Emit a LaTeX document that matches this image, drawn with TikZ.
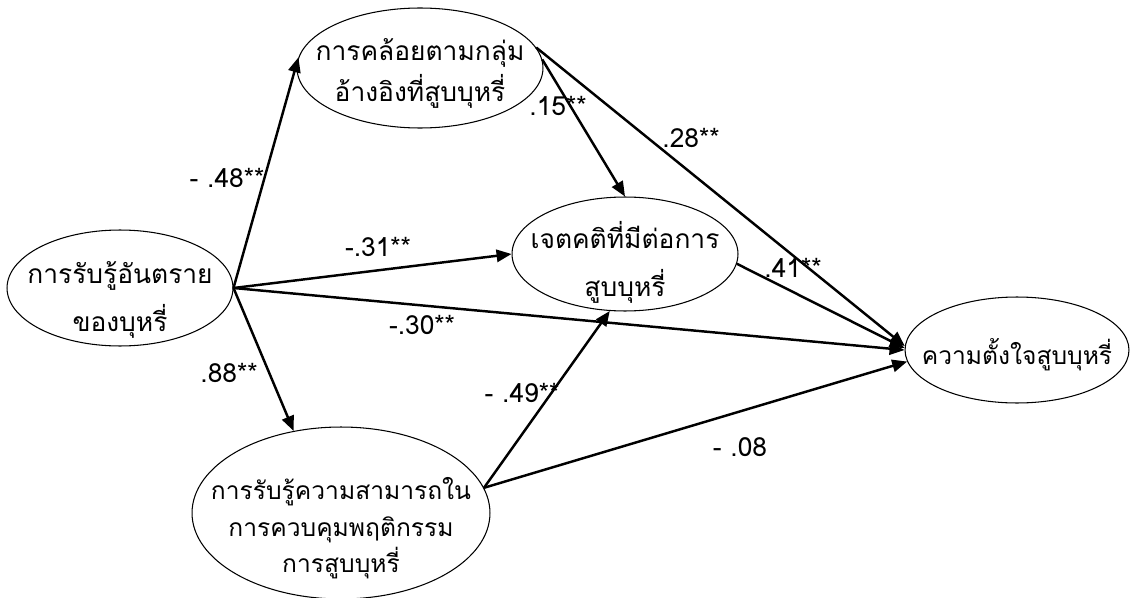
\documentclass[tikz,border=0pt]{standalone}
\usepackage{fontspec}
\setmainfont{Loma}[Script=Thai]
\usepackage{tikz}
\usetikzlibrary{shapes.geometric, arrows.meta, positioning}
% text of an ellipse: no width, no height, lowered by #1
\newcommand{\vtext}[2]{\makebox[0pt]{\raisebox{#1}[0pt][0pt]{\begin{tabular}{@{}c@{}}#2\end{tabular}}}}

\begin{document}
\begin{tikzpicture}[
    x=0.02cm, y=-0.02cm,
    var/.style={draw, ellipse, inner sep=0pt, line width=0.6pt,
                font=\fontsize{15}{21}\selectfont},
    small/.style={font=\fontsize{14}{21}\selectfont},
    coef/.style={font=\fontsize{15}{18}\selectfont, inner sep=1pt},
    arr/.style={-{Triangle[length=8.5pt, width=7pt]}, line width=1.4pt},
]
\useasboundingbox (0,0) rectangle (1132,598);

\node[var, minimum width=4.52cm, minimum height=2.32cm] (risk) at (120,288) {\vtext{-10.3pt}{การรับรู้อันตราย\\[5.7pt]ของบุหรี่}};
\node[var, minimum width=4.92cm, minimum height=2.4cm] (norm) at (420,68) {\vtext{-6.8pt}{การคล้อยตามกลุ่ม\\[1.5pt]อ้างอิงที่สูบบุหรี่}};
\node[var, minimum width=4.52cm, minimum height=2.28cm] (att) at (625,254) {\vtext{-9.7pt}{เจตคติที่มีต่อการ\\[5.7pt]สูบบุหรี่}};
\node[var, small, minimum width=5.96cm, minimum height=3.44cm] (pbc) at (341,513) {\vtext{-12.5pt}{การรับรู้ความสามารถใน\\การควบคุมพฤติกรรม\\การสูบบุหรี่}};
\node[var, small, minimum width=4.48cm, minimum height=2.12cm] (intent) at (1017,350) {\vtext{-7.5pt}{ความตั้งใจสูบบุหรี่}};

\draw[arr] (risk.east) -- (norm.175);
\draw[arr] (risk.east) -- (att.west);
\draw[arr] (risk.east) -- (intent.west);
\draw[arr] (risk.east) -- (pbc.120);
\draw[arr] (norm.4) -- (att.north);
\draw[arr] (norm.10) -- (intent.178);
\draw[arr] (att.-5) -- (intent.179);
\draw[arr] (pbc.10) -- (att.-105);
\draw[arr] (pbc.10) -- (intent.186);

% path coefficients
\node[coef] (c48) at (227,178) {- .48**};
\node[coef] (c31) at (378,247) {-.31**};
\node[coef] (c30) at (422,325) {-.30**};
\node[coef] (c88) at (229,373) {.88**};
\node[coef] (c15) at (558,106) {.15**};
\node[coef] (c28) at (691,138) {.28**};
\node[coef] (c41) at (793,268) {.41**};
\node[coef] (c49) at (522,393) {- .49**};
\node[coef] (c08) at (740,447) {- .08};
\end{tikzpicture}
\end{document}
